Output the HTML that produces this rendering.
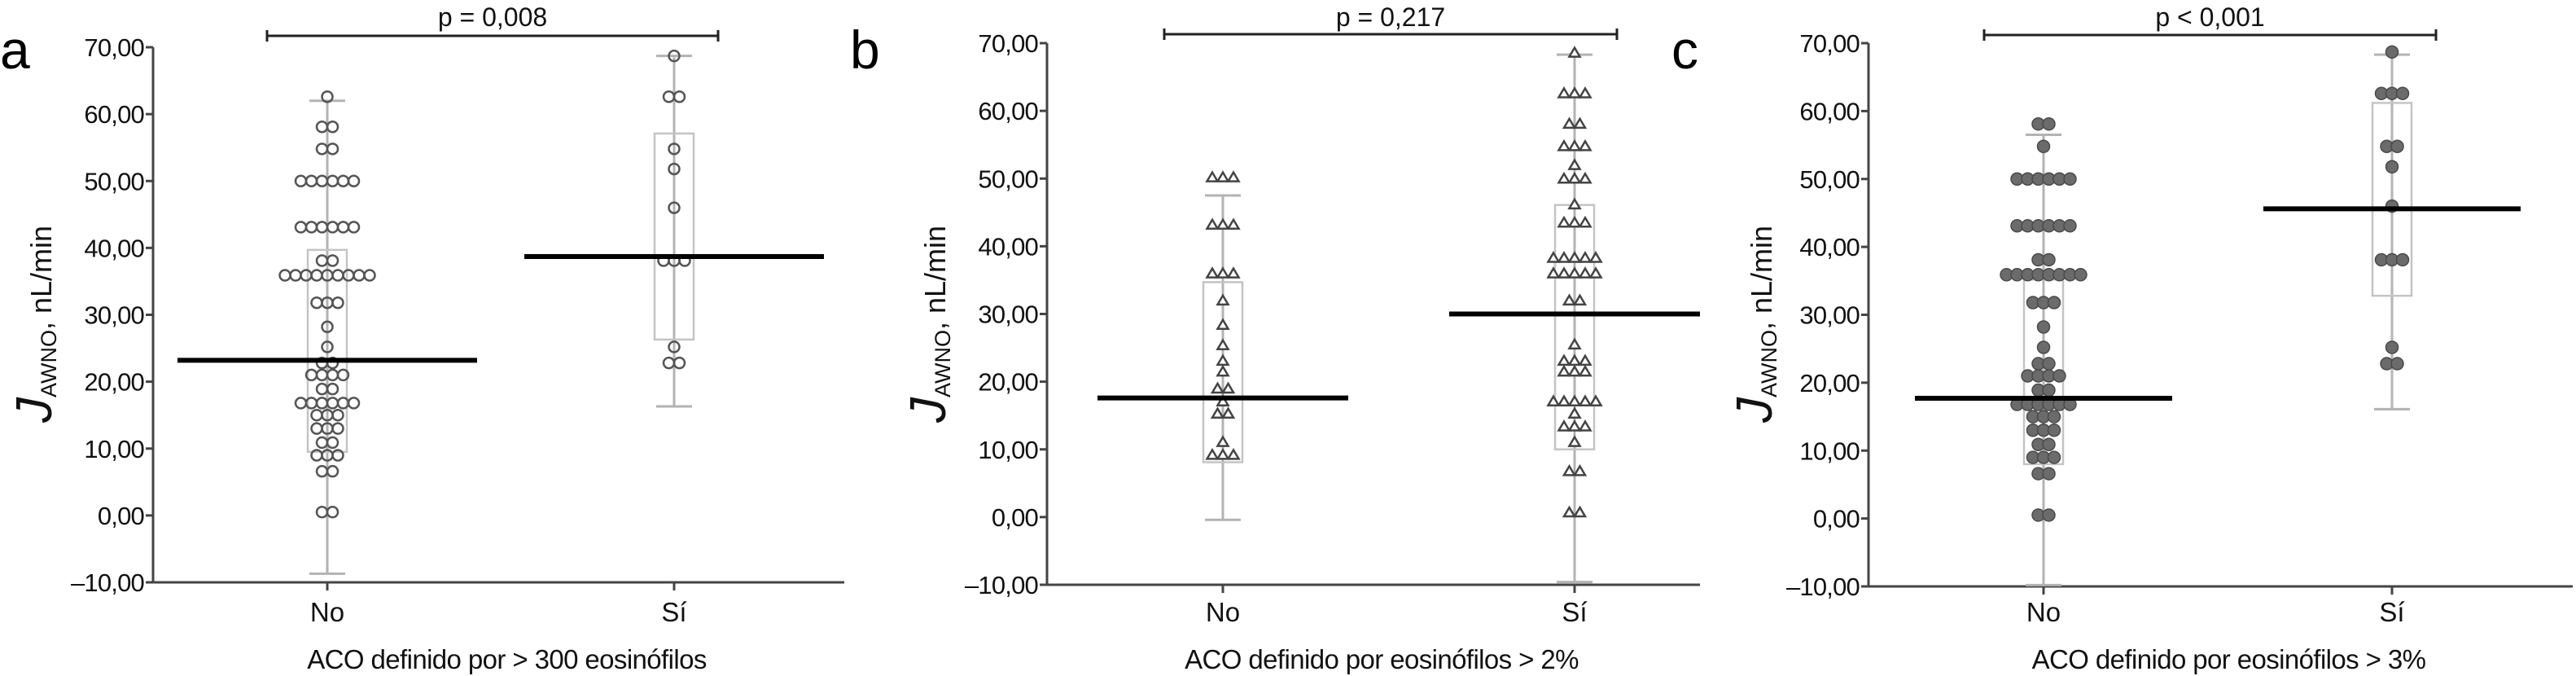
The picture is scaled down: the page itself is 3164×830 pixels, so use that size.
<!DOCTYPE html>
<html><head><meta charset="utf-8"><style>
html,body{margin:0;padding:0;background:#fff;}
svg{display:block;font-family:"Liberation Sans",Arial,sans-serif;}
</style></head><body>
<svg id="chart" width="3164" height="830" viewBox="0 0 3164 830" xmlns="http://www.w3.org/2000/svg"></svg>
<script>
const categories = ["No", "Sí"];
const yTicks = [-10, 0, 10, 20, 30, 40, 50, 60, 70];
const yTickLabels = ["\u201310,00","0,00","10,00","20,00","30,00","40,00","50,00","60,00","70,00"];
const panelLetters = ["a","b","c"];
const pLabels = ["p = 0,008","p = 0,217","p < 0,001"];
const xTitles = ["ACO definido por  > 300 eosinófilos","ACO definido por eosinófilos > 2%","ACO definido por eosinófilos > 3%"];

const aNo = [62.6,58.1,58.1,54.8,54.8,50,50,50,50,50,50,43.1,43.1,43.1,43.1,43.1,43.1,38.1,38.1,35.9,35.9,35.9,35.9,35.9,35.9,35.9,35.9,35.9,31.8,31.8,31.8,28.2,25.2,22.8,22.8,21,21,21,21,18.9,18.9,16.8,16.8,16.8,16.8,16.8,16.8,15,15,15,13,13,13,10.9,10.9,9,9,9,6.6,6.6,0.5,0.5];
const aSi = [68.7,62.6,62.6,54.8,51.8,46,38.1,38.1,38.1,25.2,22.8,22.8];
const bNo = [50.2,50.2,50.2,43.2,43.2,43.2,36,36,36,32,28.4,25.4,23.1,21.5,19,19,17.1,15.3,15.3,11.1,9.2,9.2,9.2];
const bSi = [68.6,62.6,62.6,62.6,58.1,58.1,54.8,54.8,54.8,52,50,50,50,46.2,43.5,43.5,43.5,38.3,38.3,38.3,38.3,38.3,36,36,36,36,36,32,32,25.5,23.1,23.1,23.1,21.5,21.5,21.5,17.1,17.1,17.1,17.1,17.1,15.3,13.4,13.4,13.4,11.1,6.8,6.8,0.7,0.7];
const cNo = [58.1,58.1,54.8,50,50,50,50,50,50,43.1,43.1,43.1,43.1,43.1,43.1,38.1,38.1,35.9,35.9,35.9,35.9,35.9,35.9,35.9,35.9,31.8,31.8,31.8,28.2,25.2,22.8,22.8,21,21,21,21,18.9,18.9,16.8,16.8,16.8,16.8,16.8,16.8,15,15,15,13,13,13,10.9,10.9,9,9,9,6.6,6.6,0.5,0.5];
const cSi = [68.7,62.6,62.6,62.6,54.8,54.8,51.8,46,38.1,38.1,38.1,25.2,22.8,22.8];

// [No, Sí] per panel
const medians = [[23.2,38.7],[17.6,30],[17.7,45.6]];
const q1s = [[9.5,26.3],[8.1,10],[8,32.8]];
const q3s = [[39.7,57.1],[34.7,46.1],[35.2,61.2]];
const whiskLo = [[-8.7,16.3],[-0.4,-9.6],[-9.8,16.1]];
const whiskHi = [[62,68.7],[47.5,68.3],[56.5,68.3]];
const seriesData = [[aNo,aSi],[bNo,bSi],[cNo,cSi]];

// layout (pixels, not data)
const layout = [
 {ax:188, x:[402,828], right:1037, yTop:58, yBot:715, med:184, br:[328,882], brY:44, marker:"open-circle", titleX:47},
 {ax:1286, x:[1502,1934], right:2088, yTop:53, yBot:718, med:154, br:[1430,1986], brY:42, marker:"triangle", titleX:1145},
 {ax:2295, x:[2510,2938], right:3160, yTop:53, yBot:720, med:158, br:[2437,2992], brY:43, marker:"filled-circle", titleX:2160}
];

const svg = document.getElementById('chart');
const NS = "http://www.w3.org/2000/svg";
function mk(tag, attrs, parent){
  const e = document.createElementNS(NS, tag);
  for (const k in attrs) e.setAttribute(k, attrs[k]);
  (parent||svg).appendChild(e);
  return e;
}

layout.forEach((L, p) => {
  const g = mk('g', {});
  
  
  const yScale = v => L.yBot + (v - (-10)) * (L.yTop - L.yBot) / 80;

  const lt = mk('text', {x: p===0?0:(L.ax-242), y: 84, 'font-size': 66, fill:'#000'}, g);
  lt.textContent = panelLetters[p];
  
  

  const ya = mk('line', {x1:L.ax, y1:L.yTop, x2:L.ax, y2:L.yBot, stroke:'#444', 'stroke-width':3}, g);
  
  
  const xa = mk('line', {x1:L.ax, y1:L.yBot, x2:L.right, y2:L.yBot, stroke:'#444', 'stroke-width':3}, g);
  
  

  yTicks.forEach((t, i) => {
    const y = yScale(t);
    const tk = mk('line', {x1:L.ax-9, y1:y, x2:L.ax, y2:y, stroke:'#444', 'stroke-width':3}, g);
    
    
    const tl = mk('text', {x:L.ax-11, y:y+11, 'font-size':31, 'letter-spacing':-0.8, 'text-anchor':'end', fill:'#111'}, g);
    tl.textContent = yTickLabels[i];
    
    
  });

  const yt = mk('text', {transform:`translate(${L.titleX+16},398) rotate(-90)`, 'text-anchor':'middle', fill:'#111', 'font-size':36}, g);
  
  
  const tJ = mk('tspan', {'font-size':62, 'font-style':'italic'}, yt); tJ.textContent = 'J';
  const tS = mk('tspan', {'font-size':27, dy:6}, yt); tS.textContent = 'AWNO';
  const tR = mk('tspan', {'font-size':36, dy:-6}, yt); tR.textContent = ', nL/min';

  const xt = mk('text', {x:(L.ax+L.right)/2+10, y:821, 'font-size':33, 'letter-spacing':-0.6, 'text-anchor':'middle', fill:'#111'}, g);
  xt.textContent = xTitles[p];
  
  

  const br = mk('path', {d:`M${L.br[0]},${L.brY-7} V${L.brY+7} M${L.br[0]},${L.brY} H${L.br[1]} M${L.br[1]},${L.brY-7} V${L.brY+7}`, stroke:'#222', 'stroke-width':3, fill:'none'}, g);
  
  
  const pt = mk('text', {x:(L.br[0]+L.br[1])/2, y:32, 'font-size':32, 'text-anchor':'middle', fill:'#111'}, g);
  pt.textContent = pLabels[p];
  
  

  categories.forEach((cat, c) => {
    const cx = L.x[c];
    const tk = mk('line', {x1:cx, y1:L.yBot, x2:cx, y2:L.yBot+10, stroke:'#444', 'stroke-width':3}, g);
    
    
    const cl = mk('text', {x:cx, y:763, 'font-size':33, 'text-anchor':'middle', fill:'#111'}, g);
    cl.textContent = cat;
    
    

    const wk = mk('path', {d:`M${cx},${yScale(whiskLo[p][c])} V${yScale(whiskHi[p][c])} M${cx-22},${yScale(whiskLo[p][c])} h44 M${cx-22},${yScale(whiskHi[p][c])} h44`, stroke:'#b3b3b3', 'stroke-width':3, fill:'none'}, g);
    
    
    const bx = mk('rect', {x:cx-24, y:yScale(q3s[p][c]), width:48, height:yScale(q1s[p][c])-yScale(q3s[p][c]), fill:'none', stroke:'#c4c4c4', 'stroke-width':2.5}, g);
    
    

    const vals = seriesData[p][c];
    const groups = {};
    vals.forEach(v => { groups[v] = (groups[v]||0) + 1; });
    const step = 13;
    Object.keys(groups).forEach(k => {
      const v = parseFloat(k), n = groups[k], y = yScale(v);
      for (let i = 0; i < n; i++) {
        const px = cx + (i - (n-1)/2) * step;
        let m;
        if (L.marker === 'triangle') {
          m = mk('path', {d:`M${px},${y-6} L${px+6.5},${y+5} L${px-6.5},${y+5} Z`, fill:'#fff', stroke:'#444', 'stroke-width':2.5}, g);
        } else if (L.marker === 'open-circle') {
          m = mk('circle', {cx:px, cy:y, r:6.5, fill:'none', stroke:'#555', 'stroke-width':2.5}, g);
        } else {
          m = mk('circle', {cx:px, cy:y, r:7.5, fill:'#6b6b6b', stroke:'#4a4a4a', 'stroke-width':1.5}, g);
        }
        
        
      }
    });

    const md = mk('line', {x1:cx-L.med, y1:yScale(medians[p][c]), x2:Math.min(cx+L.med, L.right), y2:yScale(medians[p][c]), stroke:'#000', 'stroke-width':6}, g);
    
    
  });
});
</script>
</body></html>
